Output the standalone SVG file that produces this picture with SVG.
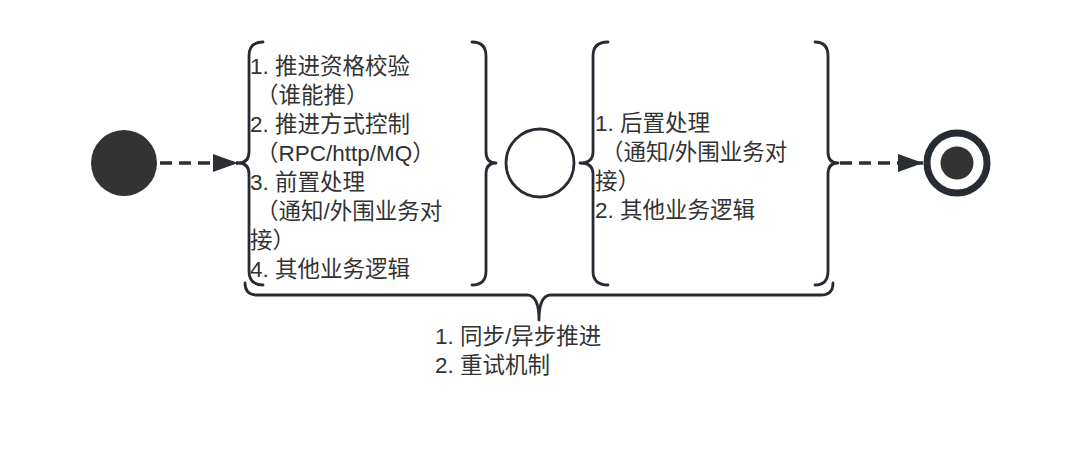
<svg xmlns="http://www.w3.org/2000/svg" width="1080" height="466" viewBox="0 0 1080 466">
<defs>
<marker id="arr" markerWidth="26" markerHeight="20" refX="25" refY="9" orient="auto" markerUnits="userSpaceOnUse">
<path d="M0,0 L25,9 L0,18 Z" fill="#2b2f33"/>
</marker>
<style>
.txt{font-family:"Liberation Sans","Noto Sans CJK SC",sans-serif;font-size:22.5px;fill:#333333}
.brace{fill:none;stroke:#272c33;stroke-width:2.8;stroke-linecap:round;stroke-linejoin:round}
.dash{fill:none;stroke:#2b2f33;stroke-width:3.5;stroke-dasharray:12 7}
</style>
</defs>
<rect width="1080" height="466" fill="#ffffff"/>
<g id="connectors">
<line class="dash" x1="160" y1="163" x2="238" y2="163" marker-end="url(#arr)"/>
<line class="dash" x1="840" y1="163" x2="923" y2="163" marker-end="url(#arr)"/>
</g>
<g id="start">
<circle cx="124" cy="163" r="33" fill="#333333"/>
</g>
<g id="pre">
<path class="brace" d="M263 42 Q249 42 249 56 L249 152 Q249 163 238 163 Q249 163 249 174 L249 271 Q249 285 263 285"/>
<path class="brace" d="M472 42 Q486 42 486 56 L486 152 Q486 163 496 163 Q486 163 486 174 L486 271 Q486 285 472 285"/>
<text class="txt" x="250" y="74">1. 推进资格校验</text>
<text class="txt" x="256" y="103">（谁能推）</text>
<text class="txt" x="250" y="132">2. 推进方式控制</text>
<text class="txt" x="256" y="161">（RPC/http/MQ）</text>
<text class="txt" x="250" y="190">3. 前置处理</text>
<text class="txt" x="256" y="219">（通知/外围业务对</text>
<text class="txt" x="250" y="248">接）</text>
<text class="txt" x="250" y="277">4. 其他业务逻辑</text>
</g>
<g id="mid">
<circle cx="540" cy="163" r="34" fill="#ffffff" stroke="#272c33" stroke-width="2.8"/>
</g>
<g id="post">
<path class="brace" d="M608 42 Q593 42 593 56 L593 152 Q593 163 580 163 Q593 163 593 174 L593 271 Q593 285 608 285"/>
<path class="brace" d="M815 42 Q828 42 828 56 L828 152 Q828 163 838 163 Q828 163 828 174 L828 271 Q828 285 815 285"/>
<text class="txt" x="595" y="131">1. 后置处理</text>
<text class="txt" x="601" y="160">（通知/外围业务对</text>
<text class="txt" x="595" y="189">接）</text>
<text class="txt" x="595" y="218">2. 其他业务逻辑</text>
</g>
<g id="all">
<path class="brace" d="M245 283 Q245 295 257 295 L527 295 Q539 295 539 320 Q539 295 551 295 L821 295 Q833 295 833 283"/>
<text class="txt" x="435" y="344">1. 同步/异步推进</text>
<text class="txt" x="435" y="373">2. 重试机制</text>
</g>
<g id="end">
<circle cx="957" cy="163" r="30" fill="#ffffff" stroke="#272c33" stroke-width="7"/>
<circle cx="957" cy="163" r="16.5" fill="#333333"/>
</g>
</svg>
